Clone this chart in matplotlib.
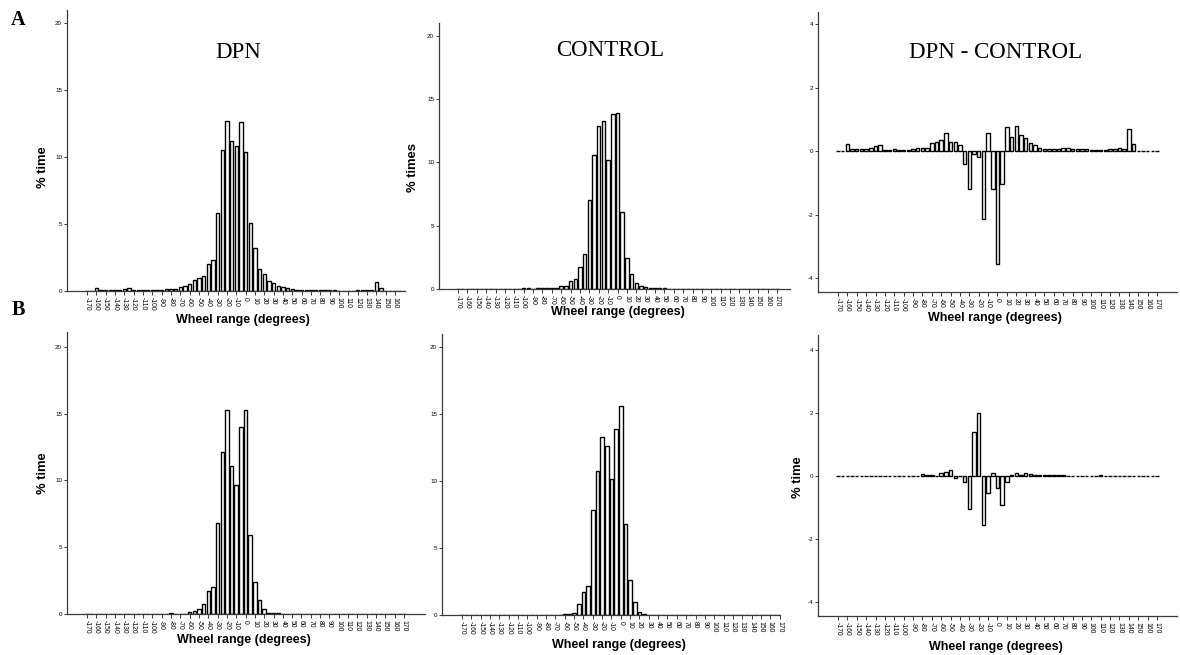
import matplotlib
matplotlib.use("Agg")
import matplotlib.pyplot as plt
import numpy as np

# ---------------- data ----------------
angles = list(range(-170, 171, 5))  # wheel range categories (degrees)

dpn_a = [0, 0, 0.2, 0.05, 0.05, 0.05, 0.05, 0.1, 0.15, 0.2,
         0.05, 0.05, 0.05, 0.05, 0.1, 0.1, 0.05, 0.15, 0.15, 0.15,
         0.3, 0.35, 0.55, 0.85, 0.95, 1.15, 2.0, 2.35, 5.8, 10.5,
         12.7, 11.2, 10.8, 12.6, 10.4, 5.05, 3.2, 1.65, 1.3, 0.75,
         0.6, 0.4, 0.3, 0.2, 0.15, 0.1, 0.1, 0.05, 0.1, 0.1,
         0.05, 0.05, 0.05, 0.05, 0.02, 0.02, 0.02, 0.02, 0.05, 0.05,
         0.1, 0.05, 0.7, 0.2, 0, 0, 0, 0, 0]

con_a = [0] * 14 + [0.05, 0.05, 0.02, 0.05, 0.05, 0.05, 0.05, 0.05, 0.2, 0.25,
                    0.6, 0.8, 1.75, 2.75, 7.0, 10.55, 12.9, 13.3, 10.2, 13.8,
                    13.9, 6.05, 2.45, 1.15, 0.45, 0.2, 0.15, 0.1, 0.05, 0.05,
                    0.05, 0.02] + [0] * 23

diff_a = [0, 0, 0.22, 0.05, 0.05, 0.05, 0.05, 0.1, 0.15, 0.2,
          0.02, 0.02, 0.05, 0.02, 0.02, 0.02, 0.05, 0.1, 0.1, 0.1,
          0.25, 0.3, 0.35, 0.58, 0.3, 0.28, 0.2, -0.4, -1.2, -0.1,
          -0.2, -2.15, 0.58, -1.2, -3.55, -1.05, 0.75, 0.45, 0.8, 0.5,
          0.42, 0.25, 0.2, 0.1, 0.05, 0.05, 0.05, 0.05, 0.1, 0.1,
          0.05, 0.05, 0.05, 0.05, 0.02, 0.02, 0.02, 0.02, 0.05, 0.05,
          0.1, 0.05, 0.68, 0.22, 0, 0, 0, 0, 0]

dpn_b = [0] * 18 + [0.05, 0.02, 0.02, 0.02, 0.15, 0.2, 0.4, 0.75, 1.7, 2.0,
                    6.8, 12.15, 15.3, 11.05, 9.65, 14.0, 15.25, 5.9, 2.4, 1.05,
                    0.35, 0.1, 0.08, 0.05, 0.02, 0.03, 0.03, 0.02, 0.02, 0.02,
                    0.03] + [0] * 7 + [0.03] + [0] * 12

con_b = [0] * 21 + [0.02, 0.05, 0.05, 0.15, 0.8, 1.7, 2.2, 7.85, 10.75, 13.3,
                    12.6, 10.2, 13.9, 15.6, 6.8, 2.6, 1.0, 0.2, 0.08] + [0] * 29

diff_b = [0] * 18 + [0.05, 0.02, 0.02, 0, 0.08, 0.12, 0.2, -0.05, 0, -0.2,
                     -1.05, 1.4, 2.0, -1.55, -0.55, 0.1, -0.38, -0.92, -0.2, 0.02,
                     0.1, 0.02, 0.1, 0.07, 0.02, 0.03, 0.03, 0.02, 0.02, 0.02,
                     0.03] + [0] * 7 + [0.03] + [0] * 12

hist_yticks = [0, 5, 10, 15, 20]
diff_yticks = [-4, -2, 0, 2, 4]
xtick_vals = list(range(-170, 171, 10))

for s in (dpn_a, con_a, diff_a, dpn_b, con_b, diff_b):
    assert len(s) == len(angles), len(s)

# ---------------- figure ----------------
W, H = 1180, 655
fig = plt.figure(figsize=(W / 100, H / 100), dpi=100)
fig.patch.set_facecolor("white")

SANS = "Liberation Sans"
SERIF = "Liberation Serif"
AXCOL = "#3a3a3a"


def rect(l, r, t, b):
    return [l / W, 1 - b / H, (r - l) / W, (b - t) / H]


def panel(box, values, xlim, ylim, yticks, xmax_label=170):
    ax = fig.add_axes(rect(*box))
    ax.bar(angles, values, width=3.7, color="white", edgecolor="black",
           linewidth=1.0, zorder=2)
    ax.set_xlim(*xlim)
    ax.set_ylim(*ylim)
    for sp in ("top", "right"):
        ax.spines[sp].set_visible(False)
    for sp in ("left", "bottom"):
        ax.spines[sp].set_color(AXCOL)
        ax.spines[sp].set_linewidth(0.9)
    xt = [v for v in xtick_vals if v <= xmax_label]
    ax.set_xticks(xt)
    ax.set_xticklabels([str(v) for v in xt], rotation=-90,
                       fontsize=4.9, family=SANS)
    ax.set_yticks(yticks)
    ax.set_yticklabels([str(v) for v in yticks], fontsize=4.5, family=SANS)
    ax.tick_params(axis="x", length=3, width=0.7, pad=1, color=AXCOL)
    ax.tick_params(axis="y", length=2.5, width=0.7, pad=1, color=AXCOL)
    return ax


panel((67, 405, 10, 291), dpn_a, (-191.4, 170.7), (0, 21.0), hist_yticks, 160)
panel((439, 790, 23, 289), con_a, (-190.3, 183.9), (0, 21.0), hist_yticks)
panel((818, 1177, 12, 292), diff_a, (-191.3, 191.3), (-4.44, 4.38), diff_yticks)
panel((67, 425, 332, 614), dpn_b, (-191.5, 192.5), (0, 21.1), hist_yticks)
panel((442, 780, 334, 615), con_b, (-191.5, 170.5), (0, 21.0), hist_yticks)
panel((818, 1177, 335, 616), diff_b, (-191.3, 191.3), (-4.43, 4.46), diff_yticks)


def ftext(x, y, s, **kw):
    fig.text(x / W, 1 - y / H, s, **kw)


# titles
ftext(238, 52, "DPN", fontsize=16.5, family=SERIF, ha="center", va="center")
ftext(610, 50, "CONTROL", fontsize=16.5, family=SERIF, ha="center", va="center")
ftext(996, 52, "DPN - CONTROL", fontsize=16.5, family=SERIF, ha="center", va="center")

# panel letters
ftext(18, 20, "A", fontsize=14.5, family=SERIF, weight="bold", ha="center", va="center")
ftext(18, 310, "B", fontsize=14.5, family=SERIF, weight="bold", ha="center", va="center")

# y labels
ylab = dict(fontsize=9.4, family=SANS, weight="bold", rotation=90,
            ha="center", va="center")
ftext(43, 167, "% time", **ylab)
ftext(413, 167, "% times", **ylab)
ftext(43, 473, "% time", **ylab)
ftext(798, 477, "% time", **ylab)

# x labels
xlab = dict(fontsize=9, family=SANS, weight="bold", ha="center", va="center")
ftext(243, 320, "Wheel range (degrees)", **xlab)
ftext(618, 312, "Wheel range (degrees)", **xlab)
ftext(995, 318, "Wheel range (degrees)", **xlab)
ftext(244, 640, "Wheel range (degrees)", **xlab)
ftext(619, 645, "Wheel range (degrees)", **xlab)
ftext(996, 647, "Wheel range (degrees)", **xlab)

fig.savefig("out.png", dpi=100, facecolor="white")
